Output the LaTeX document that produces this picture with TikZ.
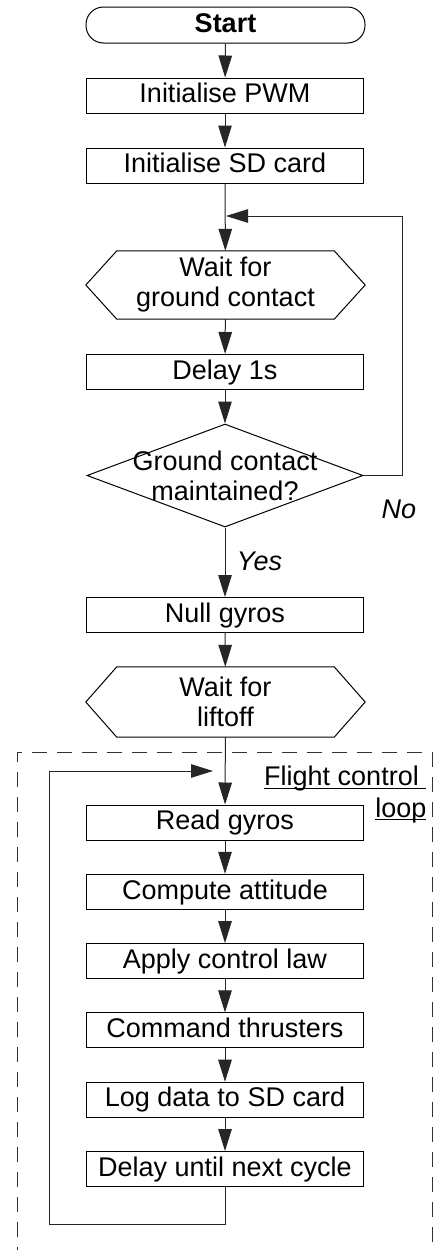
\documentclass[tikz,border=0pt]{standalone}
\usepackage{fontspec}
\setmainfont{Liberation Sans}
\usetikzlibrary{arrows.meta,shapes.geometric}
\newcommand\ulx[1]{\setbox0\hbox{#1}\rlap{\rule[-3pt]{\wd0}{1pt}}\box0}
\begin{document}
\begin{tikzpicture}[x=1pt,y=-1pt,
  font=\fontsize{27}{30}\selectfont,
  box/.style={draw, line width=1pt, minimum width=277pt, minimum height=35pt, inner sep=0pt, text height=19.5pt, text depth=5pt},
  startbox/.style={box, minimum width=279pt, minimum height=36pt, rounded corners=17.5pt, font=\fontsize{27}{30}\selectfont\bfseries},
  txt/.style={align=center, inner sep=0pt},
  link/.style={line width=1pt, black!85, -{Triangle[length=22pt,width=13.5pt]}},
  plain/.style={line width=1pt},
  lbl/.style={font=\fontsize{27}{30}\selectfont\itshape, inner sep=0pt, anchor=base},
  loopframe/.style={line width=1pt, black!80, dash pattern=on 15pt off 10pt}]
\useasboundingbox (0,0) rectangle (433,1250);
\begin{scope}
\clip (0,0) rectangle (433,1250);
\draw[loopframe] (17,1262) -- (17,752) -- (432,752) -- (432,1262);
\end{scope}
% nodes
\node[startbox] (start) at (225.5,25) {Start};
\node[box] (pwm) at (225,95.5) {Initialise PWM};
\node[box] (sd) at (225,165.5) {Initialise SD card};
\node[txt, minimum width=279pt, minimum height=68pt] (h1) at (225.5,285) {Wait for\\ground contact};
\draw[plain] ([xshift=31pt]h1.north west) -- ([xshift=-31pt]h1.north east) -- (h1.east) -- ([xshift=-31pt]h1.south east) -- ([xshift=31pt]h1.south west) -- (h1.west) -- cycle;
\node[box] (d1) at (225,372) {Delay 1s};
\node[diamond, draw, line width=1pt, minimum width=276pt, minimum height=103pt, inner sep=0pt] (dec) at (225,475.5) {};
\node[txt] (dect) at (dec) {Ground contact\\maintained?};
\node[box] (null) at (225,615) {Null gyros};
\node[txt, minimum width=279pt, minimum height=70pt] (h2) at (225.5,702) {Wait for\\liftoff};
\draw[plain] ([xshift=31pt]h2.north west) -- ([xshift=-31pt]h2.north east) -- (h2.east) -- ([xshift=-31pt]h2.south east) -- ([xshift=31pt]h2.south west) -- (h2.west) -- cycle;
\node[box] (read) at (225,822.5) {Read gyros};
\node[box] (comp) at (225,891.8) {Compute attitude};
\node[box] (law) at (225,961.1) {Apply control law};
\node[box] (cmd) at (225,1030.4) {Command thrusters};
\node[box] (log) at (225,1099.7) {Log data to SD card};
\node[box] (dly) at (225,1169) {Delay until next cycle};
% labels
\node[lbl] (no) at (399,518) {No};
\node[lbl] (yes) at (259.5,570) {Yes};
\node[anchor=base east, inner sep=0pt] (fl1) at (426.5,785.5) {\ulx{Flight control\ }};
\node[anchor=base east, inner sep=0pt] (fl2) at (426.5,817) {\ulx{loop}};
% connectors
\draw[link] (start) -- (pwm);
\draw[link] (pwm) -- (sd);
\draw[link] (sd) -- (h1);
\draw[link] (h1) -- (d1);
\draw[link] (d1) -- (dec);
\draw[link] (dec) -- (null);
\draw[link] (null) -- (h2);
\draw[link] (h2) -- (read);
\draw[link] (read) -- (comp);
\draw[link] (comp) -- (law);
\draw[link] (law) -- (cmd);
\draw[link] (cmd) -- (log);
\draw[link] (log) -- (dly);
\coordinate (nr) at (402,216);
\coordinate (nj) at (226,216);
\draw[link] (dec.east) -| (nr) -- (nj);
\coordinate (lb) at (49,1224);
\coordinate (lt) at (49,771);
\coordinate (ltip) at (213,771);
\draw[link] (dly.south) |- (lb) -- (lt) -- (ltip);
\end{tikzpicture}
\end{document}
